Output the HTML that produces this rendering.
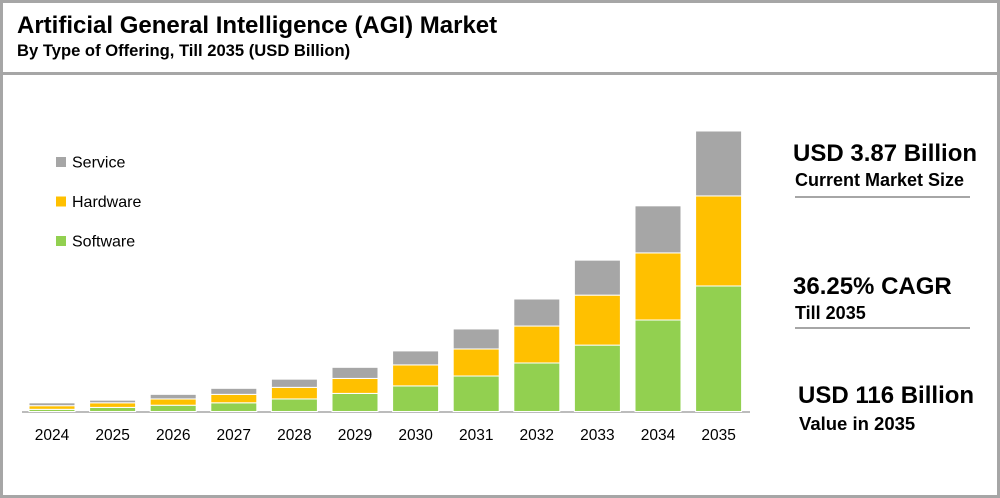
<!DOCTYPE html>
<html><head><meta charset="utf-8"><style>
body{margin:0;width:1000px;height:498px;overflow:hidden;background:#fff;font-family:"Liberation Sans",Arial,sans-serif}
#frame{position:absolute;left:0;top:0;width:994px;height:492px;border:3px solid #a6a6a6;background:#fff}
.t{position:absolute;white-space:nowrap;color:#000}
</style></head><body>
<div id="frame"></div>
<div class="t" style="left:17px;top:12px;font-size:24px;font-weight:bold">Artificial General Intelligence (AGI) Market</div>
<div class="t" style="left:17px;top:41px;font-size:16.6px;font-weight:bold">By Type of Offering, Till 2035 (USD Billion)</div>
<div style="position:absolute;left:3px;top:72px;width:994px;height:3px;background:#a6a6a6"></div>
<svg id="chart" width="1000" height="498" style="position:absolute;left:0;top:0"></svg>
<div class="t" style="left:793px;top:140px;font-size:24px;font-weight:bold">USD 3.87 Billion</div>
<div class="t" style="left:795px;top:170px;font-size:18px;font-weight:bold">Current Market Size</div>
<div style="position:absolute;left:795px;top:196px;width:175px;height:2px;background:#a6a6a6"></div>
<div class="t" style="left:793px;top:273px;font-size:24px;font-weight:bold">36.25% CAGR</div>
<div class="t" style="left:795px;top:303px;font-size:18px;font-weight:bold">Till 2035</div>
<div style="position:absolute;left:795px;top:327px;width:175px;height:2px;background:#a6a6a6"></div>
<div class="t" style="left:798px;top:382px;font-size:24px;font-weight:bold">USD 116 Billion</div>
<div class="t" style="left:799px;top:413px;font-size:18.5px;font-weight:bold">Value in 2035</div>
<script>
const years=["2024","2025","2026","2027","2028","2029","2030","2031","2032","2033","2034","2035"];
const software=[0.9,1.7,2.6,3.6,5.2,7.5,10.6,14.7,20.1,27.5,37.9,52.0];
const hardware=[1.5,1.9,2.6,3.5,4.8,6.2,8.7,11.2,15.3,20.7,27.8,37.3];
const service=[1.2,1.1,1.9,2.5,3.4,4.6,5.8,8.3,11.2,14.5,19.5,26.9];
const seriesNames=["Service","Hardware","Software"];
const colors={Software:"#92d050",Hardware:"#ffc000",Service:"#a6a6a6"};
const NS="http://www.w3.org/2000/svg";
const svg=document.getElementById('chart');
const base=411.5, scale=2.414, x0=52, step=60.6, bw=46;
const xc=i=>x0+i*step;
const yv=v=>base-v*scale;
function mk(t,a){const e=document.createElementNS(NS,t);for(const k in a)e.setAttribute(k,a[k]);svg.appendChild(e);return e;}
const ax=mk('line',{x1:22,x2:750,y1:base+0.5,y2:base+0.5,stroke:'#a6a6a6','stroke-width':1.5});


years.forEach((y,i)=>{
  let cum=0;
  [["Software",software[i]],["Hardware",hardware[i]],["Service",service[i]]].forEach(([n,v])=>{
    const r=mk('rect',{x:xc(i)-bw/2,y:yv(cum+v),width:bw,height:v*scale,fill:colors[n],stroke:'#fff','stroke-width':1});
    
    
    cum+=v;
  });
  const t=mk('text',{x:xc(i),y:440,'text-anchor':'middle','font-size':15.5,fill:'#000','font-family':'Liberation Sans, Arial, sans-serif'});
  t.textContent=y;
  
  
});
seriesNames.forEach((n,i)=>{
  const yy=162+i*39.5;
  const s=mk('rect',{x:56,y:yy-5,width:10,height:10,fill:colors[n]});
  
  
  const t=mk('text',{x:72,y:yy+5.5,'font-size':16,fill:'#000','font-family':'Liberation Sans, Arial, sans-serif'});
  t.textContent=n;
  
  
});
</script>
</body></html>
